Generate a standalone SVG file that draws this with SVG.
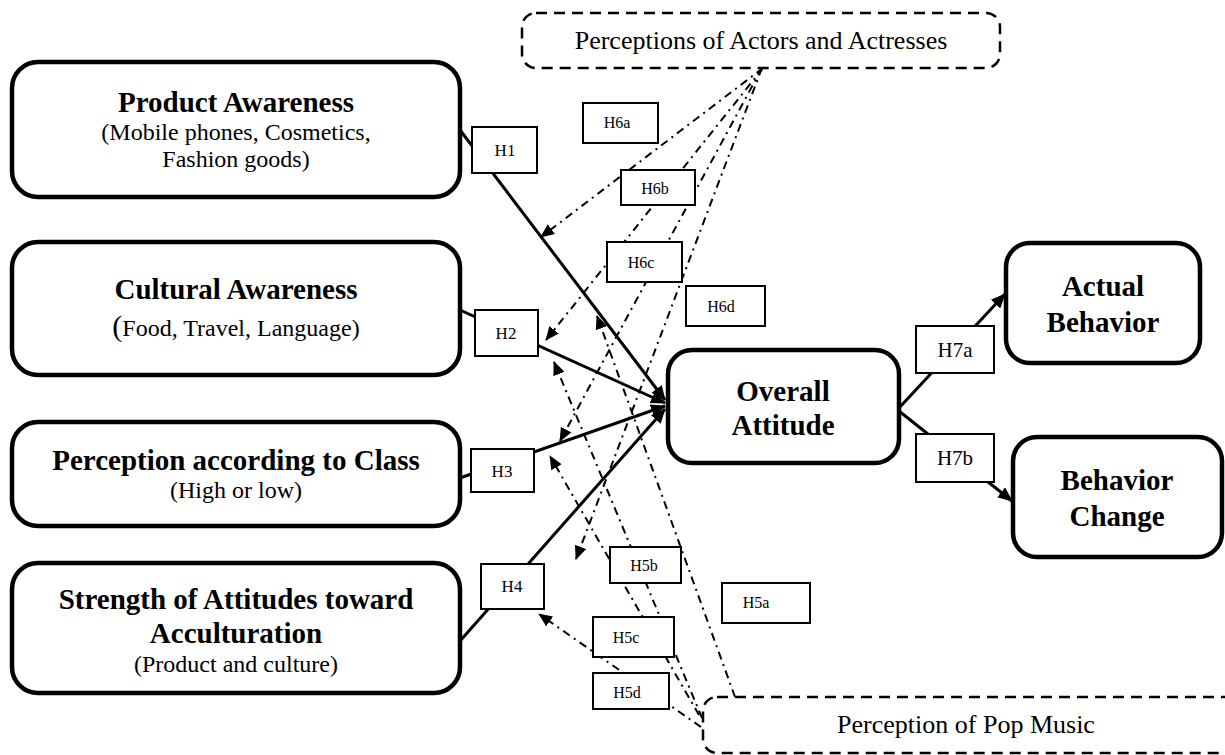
<svg xmlns="http://www.w3.org/2000/svg" width="1225" height="755" viewBox="0 0 1225 755">
<defs>
<style>
.node{fill:#fff;stroke:#000;stroke-width:4.5}
.dbox{fill:#fff;stroke:#000;stroke-width:2.5;stroke-dasharray:11 7}
.lbl{fill:#fff;stroke:#000;stroke-width:2}
.main{fill:none;stroke:#000;stroke-width:3}
.mod{fill:none;stroke:#000;stroke-width:2;stroke-dasharray:8 5 2 5}
text{font-family:"Liberation Serif","Times New Roman",serif;fill:#000;text-anchor:middle}
.t{font-size:29px;font-weight:bold}
.s{font-size:24px}
.h{font-size:17px}
.hs{font-size:16px}
.h7{font-size:21px}
.d{font-size:26px}
</style>
<marker id="ah" viewBox="0 0 14 12" refX="13" refY="6" markerWidth="15" markerHeight="13" markerUnits="userSpaceOnUse" orient="auto"><path d="M0,0 L14,6 L0,12 z" fill="#000"/></marker>
<marker id="am" viewBox="0 0 14 12" refX="13" refY="6" markerWidth="14" markerHeight="12" markerUnits="userSpaceOnUse" orient="auto"><path d="M0,0 L14,6 L0,12 z" fill="#000"/></marker>
</defs>
<rect width="1225" height="755" fill="#fff"/>

<g id="connectors">
<line class="main" x1="460" y1="130" x2="665" y2="400" marker-end="url(#ah)"/>
<line class="main" x1="460" y1="310" x2="665" y2="403" marker-end="url(#ah)"/>
<line class="main" x1="460" y1="478" x2="665" y2="406" marker-end="url(#ah)"/>
<line class="main" x1="460" y1="641" x2="665" y2="409" marker-end="url(#ah)"/>
<line class="main" x1="899" y1="408" x2="1005" y2="294" marker-end="url(#ah)"/>
<line class="main" x1="899" y1="411" x2="1012" y2="501" marker-end="url(#ah)"/>
<line class="mod" x1="763" y1="68" x2="541" y2="237" marker-end="url(#am)"/>
<line class="mod" x1="763" y1="68" x2="546" y2="340" marker-end="url(#am)"/>
<line class="mod" x1="762" y1="68" x2="560" y2="441" marker-end="url(#am)"/>
<line class="mod" x1="762" y1="68" x2="576" y2="559" marker-end="url(#am)"/>
<line class="mod" x1="735" y1="697" x2="597" y2="316" marker-end="url(#am)"/>
<line class="mod" x1="702" y1="718" x2="554" y2="362" marker-end="url(#am)"/>
<line class="mod" x1="699" y1="715" x2="550" y2="456" marker-end="url(#am)"/>
<line class="mod" x1="701" y1="727" x2="539" y2="614" marker-end="url(#am)"/>
</g>

<g id="labels">
<g id="lbl-H1"><rect class="lbl" x="472" y="127" width="65" height="46"/><text class="h" x="505" y="156">H1</text></g>
<g id="lbl-H2"><rect class="lbl" x="475" y="310" width="63" height="46"/><text class="h" x="506" y="339">H2</text></g>
<g id="lbl-H3"><rect class="lbl" x="471" y="449" width="63" height="43"/><text class="h" x="502" y="477">H3</text></g>
<g id="lbl-H4"><rect class="lbl" x="481" y="564" width="63" height="45"/><text class="h" x="512" y="592">H4</text></g>
<g id="lbl-H6a"><rect class="lbl" x="583" y="103" width="75" height="40"/><text class="hs" x="617" y="128">H6a</text></g>
<g id="lbl-H6b"><rect class="lbl" x="621" y="170" width="74" height="35"/><text class="hs" x="655" y="194">H6b</text></g>
<g id="lbl-H6c"><rect class="lbl" x="607" y="242" width="75" height="40"/><text class="hs" x="641" y="268">H6c</text></g>
<g id="lbl-H6d"><rect class="lbl" x="686" y="286" width="79" height="40"/><text class="hs" x="721" y="312">H6d</text></g>
<g id="lbl-H5a"><rect class="lbl" x="722" y="583" width="88" height="40"/><text class="hs" x="756" y="608">H5a</text></g>
<g id="lbl-H5b"><rect class="lbl" x="610" y="547" width="71" height="36"/><text class="hs" x="644" y="571">H5b</text></g>
<g id="lbl-H5c"><rect class="lbl" x="593" y="617" width="81" height="40"/><text class="hs" x="626" y="643">H5c</text></g>
<g id="lbl-H5d"><rect class="lbl" x="593" y="673" width="76" height="36"/><text class="hs" x="627" y="698">H5d</text></g>
<g id="lbl-H7a"><rect class="lbl" x="916" y="326" width="78" height="47"/><text class="h7" x="955" y="357">H7a</text></g>
<g id="lbl-H7b"><rect class="lbl" x="916" y="434" width="78" height="48"/><text class="h7" x="955" y="465">H7b</text></g>
</g>

<g id="actors"><rect class="dbox" x="522" y="13" width="478" height="55" rx="14"/><text class="d" x="761" y="49">Perceptions of Actors and Actresses</text></g>
<g id="popmusic"><rect class="dbox" x="703" y="697" width="540" height="56" rx="14"/><text class="d" x="966" y="733">Perception of Pop Music</text></g>

<g id="product"><rect class="node" x="12" y="62" width="448" height="135" rx="26"/>
<text class="t" x="236" y="112">Product Awareness</text>
<text class="s" x="236" y="140">(Mobile phones, Cosmetics,</text>
<text class="s" x="236" y="167">Fashion goods)</text></g>

<g id="cultural"><rect class="node" x="12" y="242" width="448" height="133" rx="26"/>
<text class="t" x="236" y="299">Cultural Awareness</text>
<text class="s" x="236" y="336"><tspan font-size="30">(</tspan>Food, Travel, Language)</text></g>

<g id="perception"><rect class="node" x="12" y="422" width="448" height="104" rx="26"/>
<text class="t" x="236" y="470">Perception according to Class</text>
<text class="s" x="236" y="498">(High or low)</text></g>

<g id="strength"><rect class="node" x="12" y="563" width="448" height="130" rx="26"/>
<text class="t" x="236" y="609">Strength of Attitudes toward</text>
<text class="t" x="236" y="643">Acculturation</text>
<text class="s" x="236" y="672">(Product and culture)</text></g>

<g id="overall"><rect class="node" x="668" y="350" width="231" height="113" rx="24"/>
<text class="t" x="783" y="401">Overall</text>
<text class="t" x="783" y="435">Attitude</text></g>

<g id="actual"><rect class="node" x="1006" y="243" width="194" height="120" rx="24"/>
<text class="t" x="1103" y="296">Actual</text>
<text class="t" x="1103" y="332">Behavior</text></g>

<g id="change"><rect class="node" x="1013" y="437" width="209" height="120" rx="24"/>
<text class="t" x="1117" y="490">Behavior</text>
<text class="t" x="1117" y="526">Change</text></g>
</svg>
